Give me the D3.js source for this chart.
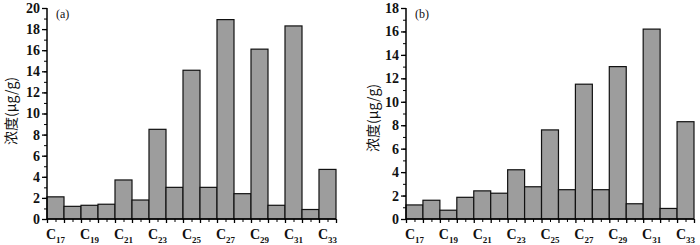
<!DOCTYPE html>
<html lang="zh">
<head>
<meta charset="UTF-8">
<title>浓度</title>
<script src="https://d3js.org/d3.v7.min.js"></script>
<style>
  body { margin: 0; background: #fff; }
  svg text { font-family: "Liberation Serif", "DejaVu Serif", serif; font-weight: bold; fill: #111; }
  .ytitle { font-family: "Noto Sans CJK SC", serif; font-weight: normal; }
</style>
</head>
<body>
<svg width="700" height="245"></svg>
<script>
  const carbons = [17, 18, 19, 20, 21, 22, 23, 24, 25, 26, 27, 28, 29, 30, 31, 32, 33];
  const valuesA = [2.1, 1.2, 1.3, 1.4, 3.7, 1.8, 8.5, 3.0, 14.1, 3.0, 18.9, 2.4, 16.1, 1.3, 18.3, 0.9, 4.7];
  const valuesB = [1.2, 1.6, 0.75, 1.85, 2.4, 2.2, 4.2, 2.75, 7.6, 2.5, 11.5, 2.5, 13.0, 1.3, 16.2, 0.9, 8.3];
  const yTicksA = [0, 2, 4, 6, 8, 10, 12, 14, 16, 18, 20];
  const yTicksB = [0, 2, 4, 6, 8, 10, 12, 14, 16, 18];
  const labeled = [17, 19, 21, 23, 25, 27, 29, 31, 33];

  const svg = d3.select('svg');

  function panel(opt) {
    const w = opt.right - opt.left, h = opt.bottom - opt.top;
    const g = svg.append('g').attr('transform', `translate(${opt.left},${opt.top})`);

    const x = d3.scaleBand().domain(carbons).range([0, w]).padding(0);
    const xl = d3.scaleLinear().domain([0, carbons.length]).range([0, w]);
    const ymax = d3.max(opt.ticks);
    const y = d3.scaleLinear().domain([0, ymax]).range([h, 0]);

    g.selectAll('rect.bar')
      .data(opt.values)
      .enter()
      .append('rect')
      .attr('class', 'bar')
      .attr('x', (d, i) => x(carbons[i]))
      .attr('y', d => y(d))
      .attr('width', x.bandwidth())
      .attr('height', d => h - y(d))
      .attr('fill', '#9d9d9d')
      .attr('stroke', '#111')
      .attr('stroke-width', 1.2);

    // y minor ticks
    g.append('g')
      .call(d3.axisLeft(y).tickValues(d3.range(0, ymax + 1, 1)).tickSize(3).tickFormat(''))
      .call(a => a.select('.domain').remove());
    // y major ticks
    const ya = g.append('g')
      .call(d3.axisLeft(y).tickValues(opt.ticks).tickSize(5).tickPadding(2).tickFormat(d3.format('d')));
    ya.selectAll('text').style('font-size', '14px');
    ya.select('.domain').attr('d', `M0,${h}V0`).attr('stroke-width', 1.5);
    ya.selectAll('.tick line').attr('stroke-width', 1.3);

    // x ticks: bar edges and centers
    g.append('g')
      .attr('transform', `translate(0,${h})`)
      .call(d3.axisBottom(xl).tickValues(d3.range(0, carbons.length + 1)).tickSize(4).tickFormat(''))
      .call(a => a.select('.domain').attr('d', `M0,0H${w}`).attr('stroke-width', 1.5))
      .call(a => a.selectAll('.tick line').attr('stroke-width', 1.3));
    g.append('g')
      .attr('transform', `translate(${x.bandwidth() / 2},${h})`)
      .call(d3.axisBottom(xl).tickValues(d3.range(0, carbons.length)).tickSize(3).tickFormat(''))
      .call(a => a.select('.domain').remove());

    // x labels with subscripts
    const lab = g.selectAll('text.xl')
      .data(labeled)
      .enter()
      .append('text')
      .attr('class', 'xl')
      .attr('x', d => x(d) + x.bandwidth() / 2)
      .attr('y', h + 20)
      .attr('text-anchor', 'middle')
      .style('font-size', '14px');
    lab.append('tspan').text('C');
    lab.append('tspan').attr('dy', 4).style('font-size', '9px').text(d => d);

    g.append('text')
      .attr('x', 9)
      .attr('y', 10)
      .style('font-size', '12px')
      .style('font-weight', 'normal')
      .text(opt.tag);

    svg.append('text')
      .attr('class', 'ytitle')
      .attr('transform', `translate(${opt.titleX},${opt.titleY}) rotate(-90)`)
      .attr('text-anchor', 'middle')
      .style('font-size', '14px')
      .text('浓度(μg/g)');
  }

  panel({ left: 47, right: 336, top: 8, bottom: 219, values: valuesA, ticks: yTicksA, tag: '(a)', titleX: 16, titleY: 111 });
  panel({ left: 406, right: 694, top: 8, bottom: 219, values: valuesB, ticks: yTicksB, tag: '(b)', titleX: 378, titleY: 118 });
</script>
</body>
</html>
